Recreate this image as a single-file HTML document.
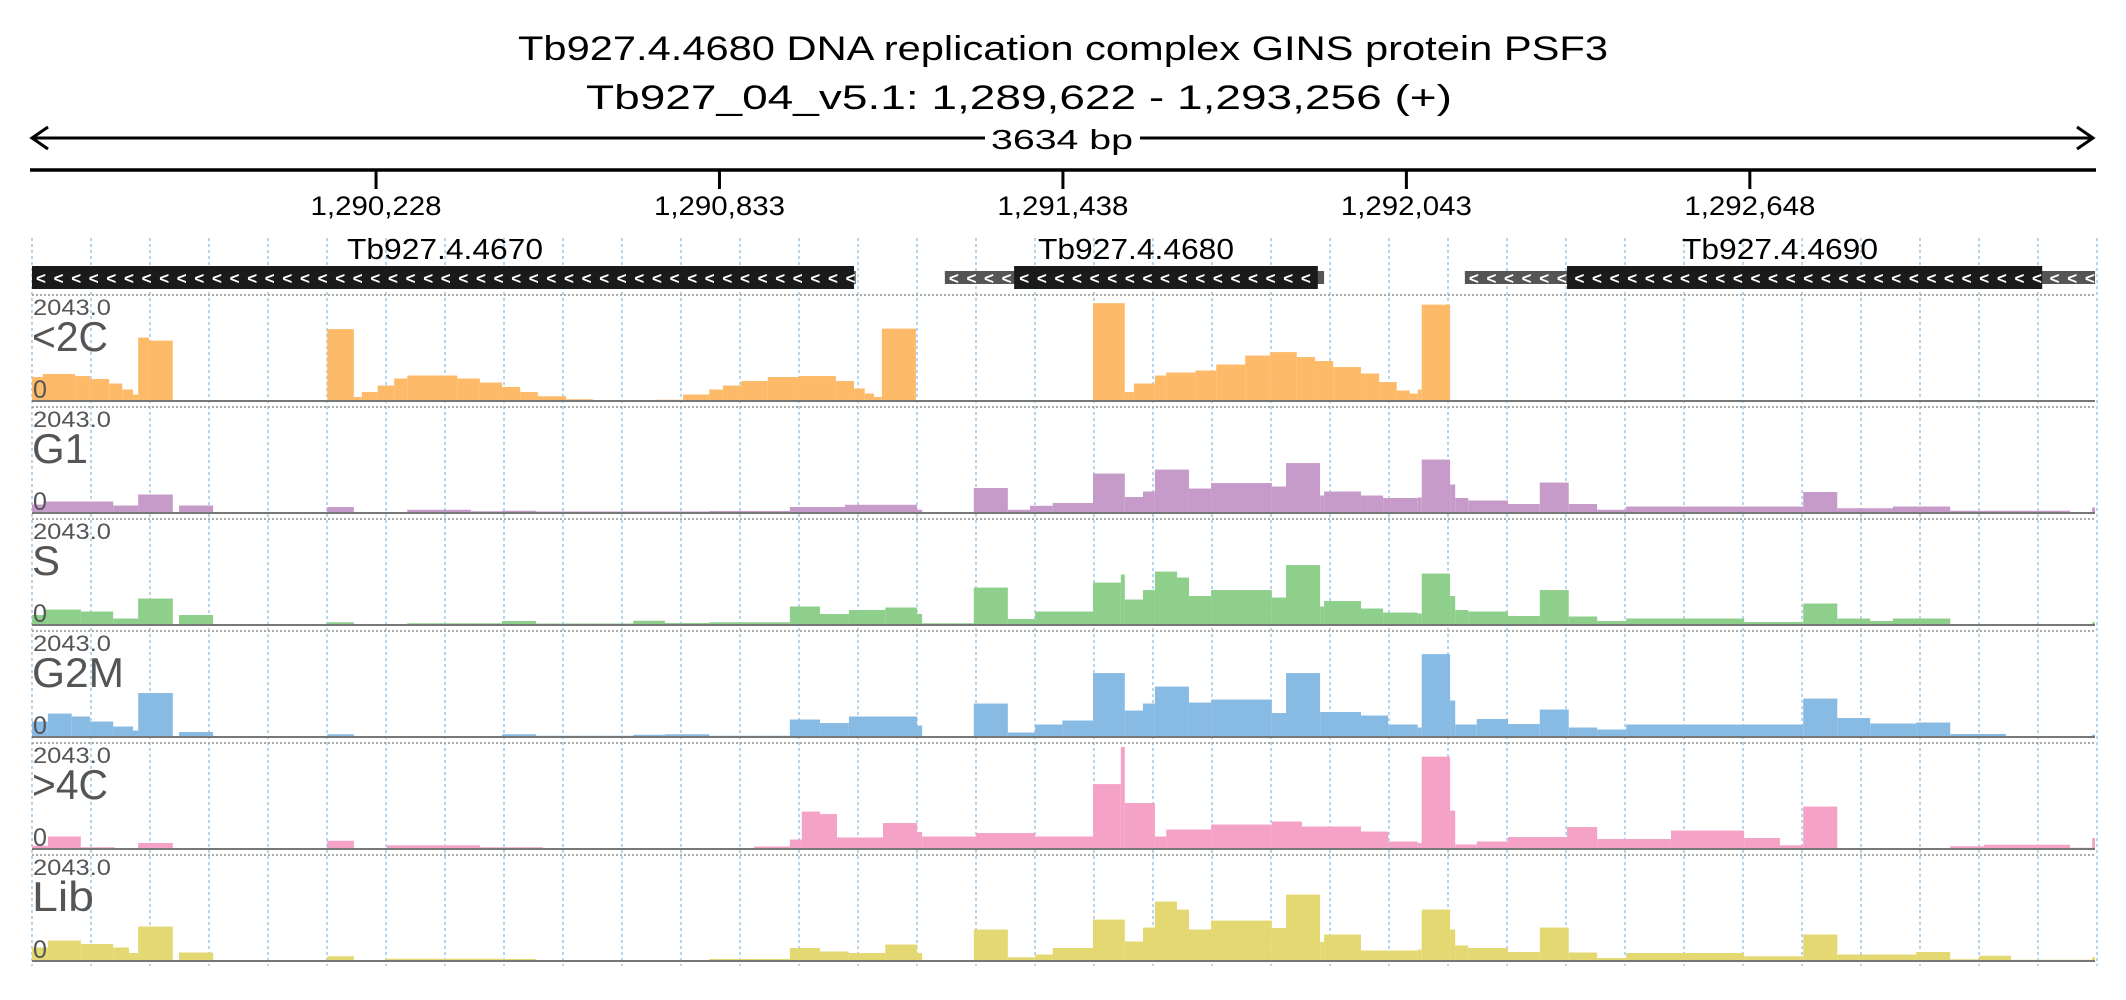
<!DOCTYPE html>
<html><head><meta charset="utf-8"><style>
html,body{margin:0;padding:0;background:#fff;}
svg{display:block;font-family:"Liberation Sans",sans-serif;}
</style></head><body>
<svg id="chart" width="2126" height="1000" viewBox="0 0 2126 1000" xmlns="http://www.w3.org/2000/svg">
<text x="1063" y="60" text-anchor="middle" font-size="34" textLength="1090" lengthAdjust="spacingAndGlyphs">Tb927.4.4680  DNA replication complex GINS protein PSF3</text>
<text x="1019" y="109" text-anchor="middle" font-size="34" textLength="866" lengthAdjust="spacingAndGlyphs">Tb927_04_v5.1: 1,289,622 - 1,293,256 (+)</text>
<g stroke="#000" stroke-width="3" fill="none">
<line x1="32" y1="138" x2="985" y2="138"/><line x1="1140" y1="138" x2="2093" y2="138"/>
<polyline points="48,127 32,138 48,149"/><polyline points="2077,127 2093,138 2077,149"/>
</g>
<text x="1062" y="149" text-anchor="middle" font-size="28" textLength="142" lengthAdjust="spacingAndGlyphs">3634 bp</text>
<line x1="30" y1="170" x2="2096" y2="170" stroke="#000" stroke-width="3.5"/>
<g id="axis"></g>
<g id="grid"></g>
<g id="genes"></g>
<g id="tracks"></g>
</svg>
<script>
const NS="http://www.w3.org/2000/svg";
const START=1289622, LEN=3634;
const tickValues=[1290228,1290833,1291438,1292043,1292648];
const tickLabels=["1,290,228","1,290,833","1,291,438","1,292,043","1,292,648"];
const geneNames=["Tb927.4.4670","Tb927.4.4680","Tb927.4.4690"];
const geneCds=[[0,1448],[1730,2265],[2704,3541]];
const geneUtr=[[0,1451],[1608,2276],[2524,3634]];
const trackNames=["<2C","G1","S","G2M",">4C","Lib"];
const trackColors=["#fdbb6a","#c79bc9","#8ecf8c","#88bbe4","#f4a3c7","#e4d872"];
const yMax=2043.0;
const s0=[0,19,76,102,136,159,178,187,206,248,520,567,581,609,638,661,749,789,828,860,891,941,988,1099,1147,1193,1217,1249,1296,1351,1416,1448,1467,1483,1497,1557,1869,1925,1941,1978,1998,2049,2086,2137,2181,2228,2260,2292,2341,2373,2404,2427,2441,2448,2498];
const v0=[480,540,500,440,350,230,130,1270,1210,0,1440,80,180,310,450,510,450,370,280,180,95,35,0,25,130,230,310,400,480,500,400,250,150,80,1450,0,1960,180,350,510,570,610,730,910,980,880,800,680,550,380,210,150,230,1930,0];
const s1=[0,23,143,187,248,259,319,520,567,661,773,828,888,1193,1335,1432,1559,1568,1659,1719,1758,1798,1869,1925,1957,1978,2038,2077,2184,2209,2269,2276,2341,2380,2441,2448,2498,2507,2530,2600,2656,2707,2757,2808,3120,3180,3278,3379,3590,3629];
const v1=[170,230,150,370,0,150,0,120,20,65,35,45,30,40,120,165,65,10,500,65,145,200,790,320,430,870,490,600,530,1000,350,430,350,300,310,1070,570,300,250,180,610,180,65,130,420,95,130,45,20,110];
const s2=[0,23,86,143,187,248,259,319,520,567,661,828,888,1059,1115,1193,1335,1388,1439,1503,1559,1568,1659,1719,1767,1869,1918,1925,1957,1978,2017,2038,2077,2184,2209,2269,2276,2341,2380,2441,2448,2498,2507,2530,2600,2656,2707,2757,2808,3016,3120,3180,3238,3278,3379,3629];
const v2=[200,310,270,130,530,0,200,0,55,15,35,80,30,85,40,55,370,220,300,350,220,35,750,120,270,850,1010,510,700,1070,950,580,700,550,1200,370,480,330,250,230,1030,580,300,270,180,700,170,80,130,60,430,130,80,130,15,55];
const s3=[0,28,70,102,143,178,187,248,259,319,520,567,828,888,1059,1115,1193,1335,1388,1439,1559,1568,1659,1719,1767,1815,1869,1925,1957,1978,2038,2077,2184,2209,2269,2341,2389,2441,2448,2498,2507,2545,2600,2656,2707,2757,2808,3120,3180,3238,3319,3379,3477,3629];
const v3=[310,470,410,310,210,130,880,0,100,0,55,15,55,25,45,55,25,350,280,410,230,20,670,90,250,330,1280,530,670,1010,690,750,480,1280,500,430,250,190,1660,730,250,360,260,550,190,150,250,770,380,270,290,60,20,45];
const s4=[0,28,86,146,187,248,520,567,625,789,900,1272,1335,1356,1388,1418,1499,1559,1568,1663,1767,1869,1918,1925,1978,1998,2077,2184,2237,2341,2389,2441,2448,2498,2507,2545,2600,2704,2757,2887,3016,3079,3120,3180,3379,3438,3590,3629];
const v4=[65,250,35,10,120,0,165,20,75,35,15,50,190,750,700,230,520,340,250,320,250,1300,2043,920,250,390,490,550,450,350,150,120,1850,770,90,150,240,440,200,370,220,75,850,10,55,85,25,220];
const s5=[0,28,86,143,171,187,248,259,319,520,567,622,828,888,1193,1335,1388,1439,1503,1559,1568,1659,1719,1767,1798,1869,1925,1957,1978,2017,2038,2077,2184,2209,2269,2276,2341,2441,2448,2498,2507,2530,2600,2656,2707,2757,2808,3016,3120,3180,3319,3379,3430,3486,3629];
const v5=[270,410,340,270,160,690,0,170,0,95,5,45,40,20,40,260,190,160,330,160,5,630,75,130,260,830,390,670,1190,1030,630,810,660,1330,380,530,210,230,1030,630,310,260,180,670,170,60,160,95,530,130,180,35,105,25,75];
const trackStarts=[s0,s1,s2,s3,s4,s5];
const trackValues=[v0,v1,v2,v3,v4,v5];

const X0=32,X1=2095;
function xScale(bp){return X0+bp/LEN*(X1-X0);}
function mk(tag,attrs,parent){const e=document.createElementNS(NS,tag);for(const k in attrs)e.setAttribute(k,attrs[k]);parent.appendChild(e);return e;}

const axis=document.getElementById('axis');
tickValues.forEach((t,i)=>{
  const x=xScale(t-START);
  const l=mk('line',{x1:x,y1:170,x2:x,y2:189,stroke:'#000','stroke-width':3},axis);
  
  
  const tx=mk('text',{x:x,y:215,'text-anchor':'middle','font-size':27,textLength:131,lengthAdjust:'spacingAndGlyphs'},axis);
  
  
  tx.textContent=tickLabels[i];
});

const grid=document.getElementById('grid');
for(let k=0;k<=35;k++){
  const x=32+59*k;
  const g=mk('line',{x1:x,y1:238,x2:x,y2:966,stroke:'#9cc8ea','stroke-width':1.5,'stroke-dasharray':'3,3'},grid);
  
  
}

const genes=document.getElementById('genes');
const labelPos=[445,1136,1780];
geneNames.forEach((n,i)=>{
  const u=geneUtr[i],c=geneCds[i];
  const ux0=xScale(u[0]),ux1=xScale(u[1]);
  const cx0=xScale(c[0]),cx1=xScale(c[1]);
  const gg=mk('g',{},genes);
  
  
  mk('rect',{x:ux0,y:271,width:ux1-ux0,height:13,fill:'#555'},gg);
  mk('rect',{x:cx0,y:266,width:cx1-cx0,height:23,fill:'#1a1a1a'},gg);
  for(let x=ux0+4;x<ux1-8;x+=17.6){
    const ch=mk('text',{x:x,y:284,'font-size':17,fill:'#fff','font-weight':'bold'},gg);
    ch.textContent='<';
  }
  const t=mk('text',{x:labelPos[i],y:259,'text-anchor':'middle','font-size':29,textLength:196,lengthAdjust:'spacingAndGlyphs'},gg);
  
  
  t.textContent=n;
});

const tracks=document.getElementById('tracks');
const nameWidths=[76,56,28,92,76,62];
trackNames.forEach((name,ti)=>{
  const top=295+112*ti, base=401+112*ti, full=102;
  const g=mk('g',{},tracks);
  
  
  mk('line',{x1:32,y1:top,x2:2095,y2:top,stroke:'#aaa','stroke-width':2,'stroke-dasharray':'2,2'},g);
  const st=trackStarts[ti],vals=trackValues[ti];
  for(let i=0;i<st.length;i++){
    const end=i+1<st.length?st[i+1]:LEN;
    const v=vals[i]; if(v<=0)continue;
    const x0=xScale(st[i]),x1=xScale(end);
    const h=v/yMax*full;
    const r=mk('rect',{x:x0,y:base-h,width:x1-x0,height:h,fill:trackColors[ti]},g);
    
    
  }
  mk('line',{x1:32,y1:base,x2:2095,y2:base,stroke:'#777','stroke-width':2},g);
  const mx=mk('text',{x:33,y:top+20,'font-size':22,fill:'#555',textLength:78,lengthAdjust:'spacingAndGlyphs'},g);
  
  
  mx.textContent='2043.0';
  const nm=mk('text',{x:32,y:top+56,'font-size':42,fill:'#555',textLength:nameWidths[ti],lengthAdjust:'spacingAndGlyphs'},g);
  
  
  nm.textContent=name;
  const z=mk('text',{x:33,y:base-3,'font-size':25,fill:'#555'},g);
  
  
  z.textContent='0';
});
</script>
</body></html>
